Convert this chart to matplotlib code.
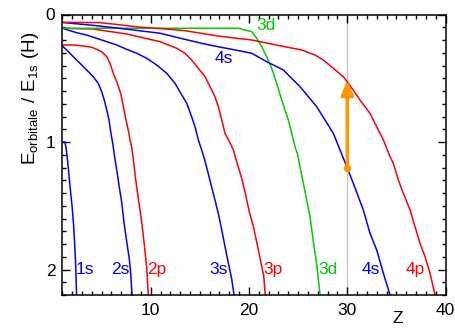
import matplotlib
matplotlib.use("Agg")
import matplotlib.pyplot as plt
from matplotlib.ticker import MultipleLocator, FixedLocator

plt.rcParams['font.family'] = ['Liberation Sans', 'DejaVu Sans']
plt.rcParams['mathtext.fontset'] = 'custom'
plt.rcParams['mathtext.rm'] = 'Liberation Sans'

# ---- data (Z, E_orbitale / E_1s(H)) ----
z_1s = [1.0, 1.28, 1.42, 1.55, 1.70, 1.85, 2.00, 2.15, 2.27, 2.38, 2.46]
y_1s = [1.0, 1.0, 1.06, 1.15, 1.27, 1.39, 1.50, 1.64, 1.80, 1.98, 2.20]

z_2s = [1.0, 1.46, 2.13, 2.81, 3.49, 4.16, 4.67, 5.02, 5.28, 5.53, 5.76, 5.96, 6.14,
        6.32, 6.55, 6.80, 7.05, 7.30, 7.58, 7.83, 7.97, 8.10]
y_2s = [0.247, 0.278, 0.331, 0.383, 0.435, 0.488, 0.540, 0.606, 0.671, 0.749, 0.827,
        0.932, 1.010, 1.11, 1.22, 1.35, 1.47, 1.64, 1.79, 1.92, 2.03, 2.20]

z_2p = [1.0, 2.13, 3.15, 4.0, 4.51, 5.02, 5.53, 5.86, 6.20, 6.61, 6.95, 7.22, 7.49,
        7.72, 7.90, 8.07, 8.23, 8.45, 8.70, 8.95, 9.2, 9.4, 9.6, 9.76]
y_2p = [0.239, 0.239, 0.247, 0.257, 0.273, 0.292, 0.331, 0.383, 0.461, 0.540, 0.618,
        0.723, 0.827, 0.906, 0.984, 1.04, 1.13, 1.28, 1.42, 1.55, 1.70, 1.84, 1.99, 2.20]

z_3s = [1.0, 2.48, 3.49, 4.51, 5.53, 6.54, 7.56, 8.58, 9.60, 10.61, 11.63, 12.48, 13.16,
        13.67, 14.17, 14.51, 14.85, 15.35, 15.70, 16.03, 16.54, 16.88, 17.23, 17.56,
        17.90, 18.23, 18.48]
y_3s = [0.108, 0.143, 0.161, 0.187, 0.213, 0.239, 0.273, 0.304, 0.344, 0.396, 0.461,
        0.540, 0.631, 0.696, 0.802, 0.880, 0.984, 1.102, 1.20, 1.30, 1.455, 1.56, 1.69,
        1.82, 1.95, 2.07, 2.20]

z_3p = [1.0, 4.16, 7.56, 10.95, 12.65, 13.49, 14.17, 14.85, 15.53, 16.04, 16.54, 16.88,
        17.23, 17.56, 17.90, 18.40, 18.85, 19.28, 19.62, 20.04, 20.47, 20.80, 21.15,
        21.50, 21.65]
y_3p = [0.108, 0.114, 0.153, 0.213, 0.265, 0.304, 0.357, 0.422, 0.488, 0.566, 0.645,
        0.723, 0.827, 0.932, 0.98, 1.06, 1.18, 1.29, 1.40, 1.55, 1.67, 1.79, 1.92,
        2.05, 2.20]

z_3d = [1.0, 18.91, 20.28, 20.79, 21.30, 21.80, 22.31, 22.82, 23.33, 23.67, 24.0, 24.35,
        24.68, 24.96, 25.19, 25.53, 25.87, 26.21, 26.54, 26.89, 27.23]
y_3d = [0.108, 0.108, 0.135, 0.187, 0.253, 0.331, 0.422, 0.540, 0.671, 0.749, 0.827,
        0.932, 1.037, 1.102, 1.194, 1.324, 1.455, 1.586, 1.78, 1.96, 2.20]

z_4s = [1.0, 4.16, 7.56, 10.95, 13.49, 15.19, 16.88, 18.58, 20.28, 21.80, 23.49, 25.19,
        26.89, 28.58, 30.0, 30.61, 31.63, 32.31, 32.99, 33.67, 34.35]
y_4s = [0.0625, 0.085, 0.115, 0.147, 0.195, 0.226, 0.253, 0.278, 0.304, 0.370, 0.435,
        0.566, 0.723, 0.932, 1.204, 1.324, 1.533, 1.716, 1.847, 2.03, 2.20]

z_4p = [1.0, 4.85, 6.2, 8.91, 10.95, 13.49, 16.88, 20.28, 21.97, 23.67, 25.36, 26.72,
        27.56, 28.58, 29.6, 30.61, 31.29, 32.31, 32.99, 33.67, 34.28, 34.68, 35.19,
        35.70, 36.38, 36.89, 37.40, 37.91, 38.42, 38.93]
y_4p = [0.061, 0.064, 0.075, 0.10, 0.11, 0.127, 0.169, 0.20, 0.226, 0.253, 0.278, 0.318,
        0.357, 0.422, 0.488, 0.592, 0.671, 0.775, 0.880, 0.984, 1.102, 1.167, 1.298,
        1.402, 1.533, 1.664, 1.795, 1.90, 2.03, 2.20]

curves = [
    (z_1s, y_1s, '#0000FF'), (z_2s, y_2s, '#0000FF'), (z_2p, y_2p, '#FF0000'),
    (z_3s, y_3s, '#0000FF'), (z_3p, y_3p, '#FF0000'), (z_3d, y_3d, '#00CC00'),
    (z_4s, y_4s, '#0000FF'), (z_4p, y_4p, '#FF0000'),
]

# labels: text, Z, y, colour
label_text = ['1s', '2s', '2p', '3s', '3p', '3d', '4s', '4p', '3d', '4s']
label_z = [3.35, 6.95, 10.6, 16.95, 22.45, 28.0, 32.4, 36.9, 21.7, 17.4]
label_y = [2.0, 2.0, 2.0, 2.0, 2.0, 2.0, 2.0, 2.0, 0.085, 0.345]
label_col = ['#0000FF', '#0000FF', '#FF0000', '#0000FF', '#FF0000', '#00CC00',
             '#0000FF', '#FF0000', '#00CC00', '#0000FF']

arrow_z = 30
arrow_y = [1.204, 0.515]

fig = plt.figure(figsize=(4.55, 3.29), dpi=100)
ax = fig.add_axes([62.2 / 455, (329 - 295) / 329, (445.6 - 62.2) / 455, (295 - 14.5) / 329])

ax.axvline(arrow_z, color='#C8C8C8', lw=1.0, zorder=0)

for z, y, c in curves:
    ax.plot(z, y, color=c, lw=1.1, zorder=2)

for t, zx, yy, c in zip(label_text, label_z, label_y, label_col):
    ax.text(zx, yy, t, color=c, fontsize=12.5, ha='center', va='center', zorder=3)

ax.annotate('', xy=(arrow_z, arrow_y[1]), xytext=(arrow_z, arrow_y[0]),
            arrowprops=dict(arrowstyle='-|>,head_length=0.85,head_width=0.36',
                            color='#FF9900', lw=2.6, shrinkA=0, shrinkB=0), zorder=4)
ax.plot([arrow_z], [arrow_y[0]], 'o', color='#FF9900', ms=4.5, zorder=4)

ax.set_xlim(1, 40)
ax.set_ylim(2.2, 0)

ax.xaxis.set_major_locator(FixedLocator([10, 20, 30, 40]))
ax.xaxis.set_minor_locator(MultipleLocator(1))
ax.yaxis.set_major_locator(FixedLocator([0, 1, 2]))
ax.yaxis.set_minor_locator(MultipleLocator(0.1))

ax.tick_params(which='both', direction='in', top=True, right=True, width=1.0,
               labelsize=12.5, colors='black')
ax.tick_params(which='major', length=5.5)
ax.tick_params(which='minor', length=3)
ax.tick_params(axis='x', pad=6)
ax.tick_params(axis='y', pad=5)
for s in ax.spines.values():
    s.set_linewidth(1.1)

ax.set_xlabel('Z', fontsize=12.5)
ax.xaxis.set_label_coords(0.875, -0.058)
ax.xaxis.label.set_va('top')
ax.set_ylabel(r'$\mathregular{E_{orbitale}\ /\ E_{1s}\ (H)}$', fontsize=13.5)
ax.yaxis.set_label_coords(-0.055, 0.70)

fig.savefig('out.png', dpi=100)
